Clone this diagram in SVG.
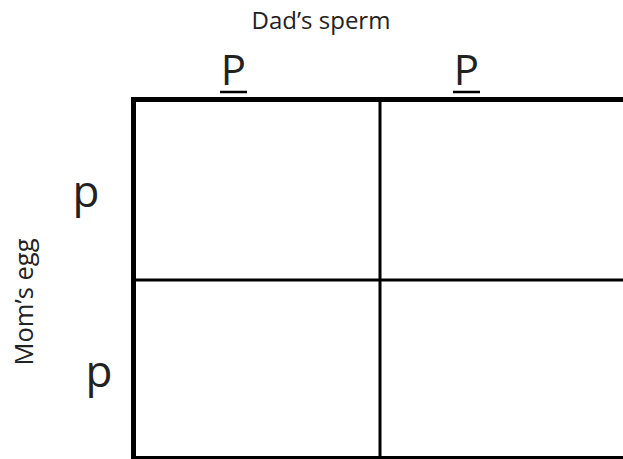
<svg xmlns="http://www.w3.org/2000/svg" width="623" height="459" viewBox="0 0 623 459">
<style>
.lbl{font-family:"Open Sans","Liberation Sans",sans-serif;fill:#222;}
.grid line{stroke:#000;}
</style>
<rect width="623" height="459" fill="#fff"/>
<g id="header-dad"><text class="lbl" x="321" y="29" font-size="24" text-anchor="middle">Dad’s sperm</text></g>
<g id="header-mom"><text class="lbl" transform="translate(33,302) rotate(-90)" font-size="25.5" text-anchor="middle">Mom’s egg</text></g>
<g id="allele-P1"><text class="lbl" x="233.5" y="85" font-size="42" text-anchor="middle">P</text><line x1="220" y1="92" x2="247" y2="92" stroke="#000" stroke-width="2.5"/></g>
<g id="allele-P2"><text class="lbl" x="466.5" y="85" font-size="42" text-anchor="middle">P</text><line x1="453" y1="92" x2="480" y2="92" stroke="#000" stroke-width="2.5"/></g>
<g id="allele-p1"><text class="lbl" x="86" y="207" font-size="44" text-anchor="middle">p</text></g>
<g id="allele-p2"><text class="lbl" x="99" y="387" font-size="44" text-anchor="middle">p</text></g>
<g id="grid" class="grid">
<line x1="131" y1="99.5" x2="623" y2="99.5" stroke-width="5"/>
<line x1="133.5" y1="97" x2="133.5" y2="459" stroke-width="5"/>
<line x1="380" y1="99" x2="380" y2="457" stroke-width="3"/>
<line x1="133" y1="280" x2="623" y2="280" stroke-width="3"/>
<line x1="133" y1="457.5" x2="623" y2="457.5" stroke-width="3"/>
</g>
</svg>
